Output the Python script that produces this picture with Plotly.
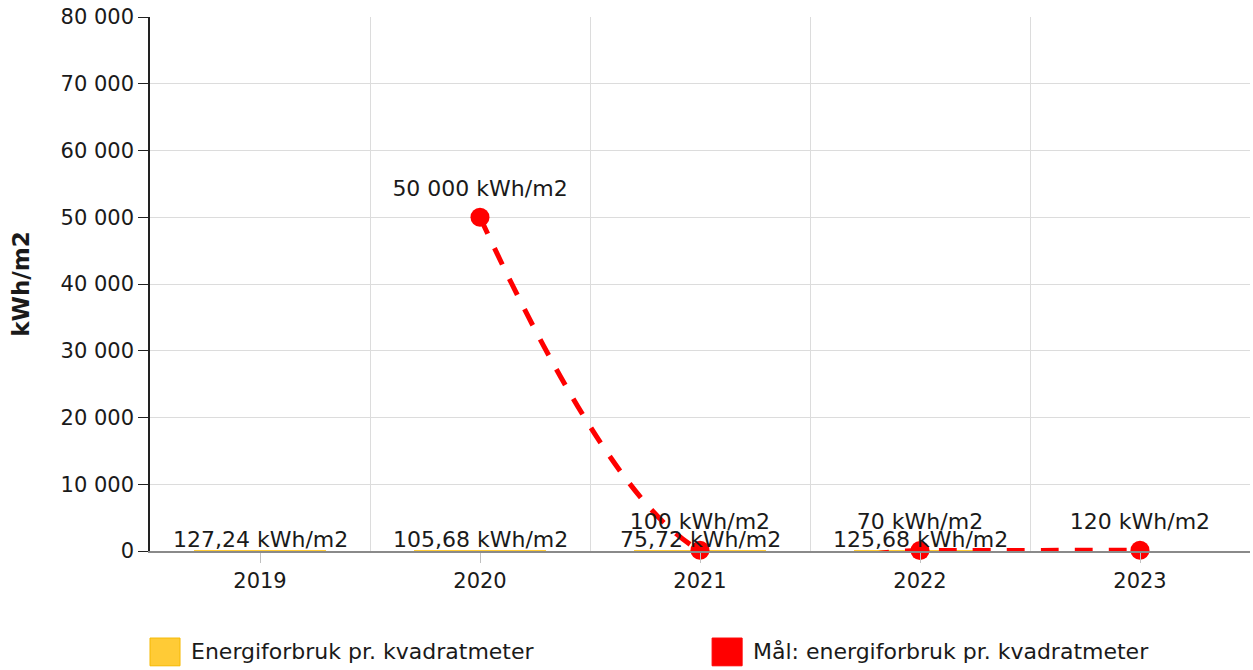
import plotly.graph_objects as go

years = ["2019", "2020", "2021", "2022", "2023"]
energy = [127.24, 105.68, 75.72, 125.68, None]
target = [None, 50000, 100, 70, 120]
y_ticks = [0, 10000, 20000, 30000, 40000, 50000, 60000, 70000, 80000]

bar_name = "Energiforbruk pr. kvadratmeter"
line_name = "Mål: energiforbruk pr. kvadratmeter"
unit = "kWh/m2"

YELLOW = "#FFCB36"
RED = "#FF0000"
TXT = "#1a1a1a"
FONT = "DejaVu Sans, Verdana, sans-serif"


def fmt(v):
    if v is None:
        return ""
    if float(v).is_integer():
        s = f"{int(v):,}".replace(",", " ")
    else:
        s = f"{v:,.2f}".replace(",", " ").replace(".", ",")
    return f"{s} {unit}"


fig = go.Figure()
fig.add_trace(go.Bar(
    x=years, y=energy, name=bar_name,
    marker=dict(color=YELLOW, line=dict(width=0)),
    showlegend=False, width=0.6, hoverinfo="x+y",
))
fig.add_trace(go.Scatter(
    x=years, y=target, name=line_name, mode="lines+markers",
    line=dict(color=RED, width=5, dash="18px,16px", shape="spline", smoothing=1),
    marker=dict(color=RED, size=19),
    cliponaxis=False, showlegend=False, connectgaps=False,
))
# target value labels
fig.add_trace(go.Scatter(
    x=years, y=target, mode="markers+text",
    marker=dict(color="rgba(0,0,0,0)", size=24),
    text=[fmt(v) for v in target], textposition="top center",
    textfont=dict(size=22, color=TXT, family=FONT),
    cliponaxis=False, showlegend=False, hoverinfo="skip",
))
# helper trace for boundary gridlines
fig.add_trace(go.Scatter(x=[None], y=[None], xaxis="x2", showlegend=False, hoverinfo="skip"))

# bar value labels (x given as category index)
for i, v in enumerate(energy):
    if v is None:
        continue
    fig.add_annotation(x=i, y=v, xref="x", yref="y", text=fmt(v), showarrow=False,
                       yanchor="bottom", xanchor="center", yshift=-4,
                       font=dict(size=22, color=TXT, family=FONT))

fig.update_layout(
    width=1253, height=670,
    margin=dict(l=150, r=3, t=17, b=119),
    paper_bgcolor="white", plot_bgcolor="white",
    separators=", ",
    font=dict(family=FONT, size=21, color=TXT),
    showlegend=False,
    bargap=0.4,
    xaxis=dict(
        type="category", range=[-0.5, 4.5], showgrid=False, automargin=False,
        showline=True, linecolor="#8a8a8a", linewidth=2,
        ticks="outside", ticklen=10, tickcolor="#c0c0c0", tickwidth=1,
        tickfont=dict(size=21, color=TXT), zeroline=False,
    ),
    xaxis2=dict(
        overlaying="x", range=[-0.5, 4.5], tickvals=[0.5, 1.5, 2.5, 3.5],
        showgrid=True, gridcolor="#dcdcdc", gridwidth=1, automargin=False,
        showticklabels=False, ticks="", showline=False, zeroline=False,
    ),
    yaxis=dict(
        range=[0, 80000], tickvals=y_ticks, tickformat=",d", automargin=False,
        showgrid=True, gridcolor="#dcdcdc", gridwidth=1,
        showline=True, linecolor="#222", linewidth=1.5,
        ticks="outside", ticklen=10, tickcolor="#222",
        tickfont=dict(size=21, color=TXT), zeroline=False,
        title=dict(text="<b>kWh/m2</b>", font=dict(size=23, color=TXT), standoff=25),
    ),
)

# custom legend
legend_items = [(bar_name, YELLOW, "#F5B800", 0.0), (line_name, RED, RED, 0.511)]
for name, fill, edge, x0 in legend_items:
    fig.add_shape(type="rect", xref="paper", yref="paper",
                  x0=x0, x1=x0 + 0.0273, y0=-0.215, y1=-0.163,
                  fillcolor=fill, line=dict(color=edge, width=1))
    fig.add_annotation(xref="paper", yref="paper", x=x0 + 0.035, y=-0.189,
                       text=name, showarrow=False, xanchor="left", yanchor="middle",
                       font=dict(size=22, color=TXT, family=FONT))

fig.write_html("out.html", config={"displayModeBar": False},
               post_script="document.body.style.margin='0px';")
